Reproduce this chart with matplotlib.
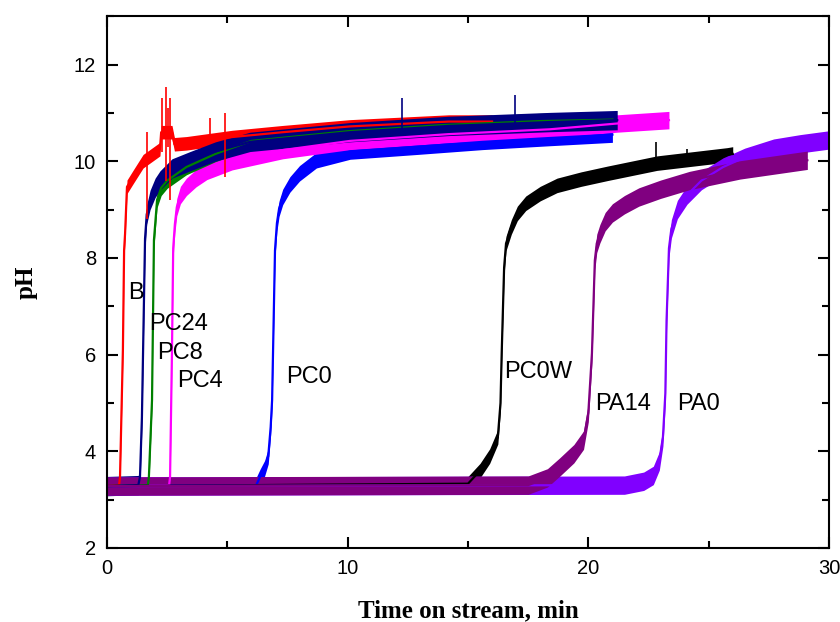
import numpy as np
import matplotlib
matplotlib.use("Agg")
import matplotlib.pyplot as plt
from matplotlib.ticker import MultipleLocator

# pH breakthrough curves (band centres)
B_x = [0, 0.5, 0.54, 0.66, 0.71, 0.75, 0.83, 1.08, 1.5, 2.2, 2.25, 2.7, 2.8, 3.3, 5.2, 7.3, 10.1, 14.2, 16.0]
B_y = [3.28, 3.3, 3.47, 6.1, 8.16, 8.5, 9.47, 9.67, 10.0, 10.25, 10.6, 10.6, 10.35, 10.37, 10.5, 10.6, 10.72, 10.82, 10.82]

PC24_x = [0, 1.3, 1.37, 1.45, 1.58, 1.65, 1.79, 2.0, 2.2, 2.7, 3.45, 4.5, 5.94, 10.1, 14.2, 18.4, 21.2]
PC24_y = [3.28, 3.3, 3.47, 4.7, 8.4, 8.9, 9.2, 9.45, 9.6, 9.85, 10.0, 10.2, 10.4, 10.6, 10.73, 10.81, 10.85]

PC8_x = [0, 1.7, 1.74, 1.87, 1.95, 2.08, 2.25, 2.5, 3.3, 4.5, 6.0, 10.0, 14.0, 18.0, 21.0]
PC8_y = [3.28, 3.3, 3.47, 5.06, 8.37, 9.2, 9.45, 9.6, 9.88, 10.15, 10.42, 10.62, 10.75, 10.83, 10.86]

PC4_x = [0, 2.58, 2.62, 2.7, 2.75, 2.82, 2.9, 3.05, 3.3, 3.7, 4.15, 5.2, 7.3, 10.1, 14.2, 18.4, 21.2, 23.35]
PC4_y = [3.28, 3.3, 3.47, 6.1, 8.2, 8.7, 9.05, 9.3, 9.47, 9.65, 9.8, 10.0, 10.23, 10.42, 10.56, 10.66, 10.78, 10.85]

PC0_x = [0, 6.2, 6.36, 6.55, 6.7, 6.8, 6.86, 6.98, 7.06, 7.15, 7.3, 7.6, 8.0, 8.7, 10.1, 12.9, 15.6, 18.4, 21.0]
PC0_y = [3.28, 3.3, 3.47, 3.65, 3.9, 4.5, 5.06, 8.16, 8.72, 9.02, 9.26, 9.52, 9.75, 10.02, 10.2, 10.3, 10.4, 10.48, 10.55]

PC0W_x = [0, 15.0, 15.5, 15.9, 16.24, 16.35, 16.4, 16.5, 16.58, 16.8, 17.05, 17.4, 18.0, 18.7, 19.7, 20.8, 22.85, 25.76, 26.0]
PC0W_y = [3.28, 3.33, 3.6, 3.9, 4.3, 5.0, 6.03, 7.8, 8.3, 8.64, 8.92, 9.13, 9.33, 9.5, 9.63, 9.75, 9.96, 10.13, 10.15]

PA14_x = [0, 17.5, 18.3, 18.8, 19.4, 19.8, 20.0, 20.15, 20.27, 20.35, 20.48, 20.7, 21.0, 21.5, 22.1, 23.0, 24.2, 26.3, 29.1]
PA14_y = [3.28, 3.3, 3.45, 3.67, 3.95, 4.23, 4.8, 6.03, 7.95, 8.3, 8.5, 8.75, 8.93, 9.1, 9.26, 9.42, 9.6, 9.82, 10.02]

PA0_x = [0, 21.5, 22.3, 22.7, 22.95, 23.1, 23.2, 23.25, 23.35, 23.45, 23.7, 24.1, 24.7, 25.6, 26.5, 27.7, 28.8, 30.0]
PA0_y = [3.28, 3.3, 3.38, 3.5, 3.8, 4.3, 5.2, 6.7, 8.2, 8.6, 9.0, 9.3, 9.6, 9.88, 10.08, 10.27, 10.36, 10.44]

# single spikes sticking out of the bands
spike_name = ["B", "B", "B", "B", "B", "B", "B", "PC24", "PC24", "PC0W", "PC0W"]
spike_x = [1.65, 2.3, 2.45, 2.6, 2.55, 4.28, 4.9, 12.25, 16.95, 22.8, 24.1]
spike_lo = [8.8, 10.2, 9.6, 9.2, 10.3, 10.4, 9.67, 10.6, 10.7, 9.9, 10.0]
spike_hi = [10.6, 11.3, 11.53, 11.3, 11.1, 10.9, 11.0, 11.3, 11.37, 10.4, 10.25]

series = [
    ("PC0", PC0_x, PC0_y, "#0000ff", 0.16),
    ("PC4", PC4_x, PC4_y, "#ff00ff", 0.18),
    ("B", B_x, B_y, "#ff0000", 0.14),
    ("PC8", PC8_x, PC8_y, "#008000", 0.16),
    ("PC24", PC24_x, PC24_y, "#000080", 0.2),
    ("PC0W", PC0W_x, PC0W_y, "#000000", 0.15),
    ("PA0", PA0_x, PA0_y, "#8000ff", 0.19),
    ("PA14", PA14_x, PA14_y, "#800080", 0.19),
]
colors = {s[0]: s[3] for s in series}

labels = ["B", "PC24", "PC8", "PC4", "PC0", "PC0W", "PA14", "PA0"]
label_x = [0.87, 1.74, 2.08, 2.91, 7.44, 16.49, 20.27, 23.68]
label_y = [7.27, 6.63, 6.04, 5.45, 5.53, 5.63, 4.98, 4.98]

fig = plt.figure(figsize=(8.4, 6.22), dpi=100)
ax = fig.add_axes([0.1274, 0.119, 0.8595, 0.855])

for name, xs, ys, col, hw in series:
    xs = np.array(xs)
    ys = np.array(ys)
    ax.fill_between(xs, ys - hw, ys + hw, color=col, lw=0)
    ax.plot(xs, ys, color=col, lw=1.6)

ax.vlines(spike_x, spike_lo, spike_hi, colors=[colors[n] for n in spike_name], lw=1.2)

for t, x, y in zip(labels, label_x, label_y):
    ax.text(x, y, t, fontsize=17, family="Liberation Sans", ha="left", va="center")

ax.set_xlim(0, 30)
ax.set_ylim(2, 13)
ax.xaxis.set_major_locator(MultipleLocator(10))
ax.xaxis.set_minor_locator(MultipleLocator(5))
ax.yaxis.set_major_locator(MultipleLocator(2))
ax.yaxis.set_minor_locator(MultipleLocator(1))
ax.tick_params(which="major", direction="in", length=8, width=1.5, pad=8,
               labelsize=14.5, bottom=True, left=True, top=True, right=True)
ax.tick_params(which="minor", direction="in", length=5, width=1.5,
               bottom=True, left=True, top=True, right=True)
for lab in ax.get_xticklabels() + ax.get_yticklabels():
    lab.set_family("Liberation Sans")
for sp in ax.spines.values():
    sp.set_linewidth(1.5)

ax.set_xlabel("Time on stream, min", fontsize=18, fontweight="bold",
              family="Liberation Serif", labelpad=15)
ax.set_ylabel("pH", fontsize=18, fontweight="bold",
              family="Liberation Serif", labelpad=26)

fig.savefig("out.png", dpi=100)
